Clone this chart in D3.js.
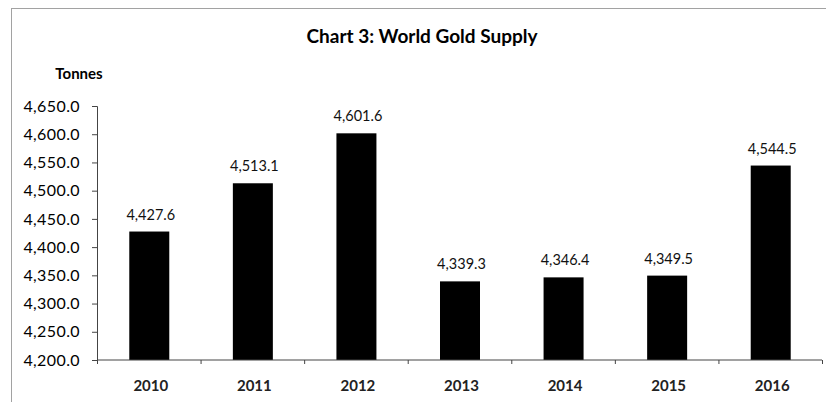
<!DOCTYPE html>
<html>
<head>
<meta charset="utf-8">
<script src="https://cdnjs.cloudflare.com/ajax/libs/d3/7.8.5/d3.min.js"></script>
<style>
  body { margin: 0; background: white; }
  svg { display: block; font-family: Lato, "Open Sans", sans-serif; }
</style>
</head>
<body>
<svg width="826" height="402"></svg>
<script>
// chart data
const years = ['2010', '2011', '2012', '2013', '2014', '2015', '2016']
const supply = [4427.6, 4513.1, 4601.6, 4339.3, 4346.4, 4349.5, 4544.5]
const yTicks = [4200, 4250, 4300, 4350, 4400, 4450, 4500, 4550, 4600, 4650]

const svg = d3.select('svg')
const plotLeft = 97, plotRight = 822, plotTop = 106, plotBottom = 360

// dotted frame around the chart area
svg.append('rect')
  .attr('x', 11.5).attr('y', 8.5)
  .attr('width', 900).attr('height', 500)
  .attr('fill', 'none')
  .attr('stroke', '#444')
  .attr('stroke-dasharray', '1,1')

const x = d3.scaleBand()
  .domain(years)
  .range([plotLeft, plotRight])
  .padding(0)

const y = d3.scaleLinear()
  .domain([4200, 4650])
  .range([plotBottom, plotTop])

const fmt = d3.format(',.1f')

// title
svg.append('text')
  .attr('x', 422).attr('y', 43)
  .attr('text-anchor', 'middle')
  .style('font-size', '19px').style('font-weight', 'bold')
  .text('Chart 3: World Gold Supply')

svg.append('text')
  .attr('x', 79).attr('y', 79)
  .attr('text-anchor', 'middle')
  .style('font-size', '15px').style('font-weight', 'bold')
  .text('Tonnes')

// bars
const barW = 40
svg.append('g')
  .selectAll('rect')
  .data(supply)
  .join('rect')
    .attr('x', (d, i) => x(years[i]) + x.bandwidth() / 2 - barW / 2 + 0.5)
    .attr('y', d => y(d))
    .attr('width', barW)
    .attr('height', d => plotBottom - y(d))
    .attr('fill', '#000')

// value labels
svg.append('g')
  .selectAll('text')
  .data(supply)
  .join('text')
    .attr('x', (d, i) => x(years[i]) + x.bandwidth() / 2 + 2)
    .attr('y', d => y(d) - 12)
    .attr('text-anchor', 'middle')
    .style('font-size', '14.5px')
    .attr('fill', '#111')
    .text(d => fmt(d))

// y axis
const yAxis = svg.append('g')
  .attr('transform', `translate(${plotLeft},0)`)
  .call(d3.axisLeft(y).tickValues(yTicks).tickFormat(fmt).tickSize(5).tickPadding(12))
yAxis.select('.domain').attr('stroke', '#444')
yAxis.selectAll('.tick line').attr('stroke', '#444')
yAxis.selectAll('text')
  .style('font-size', '16px')
  .style('letter-spacing', '0.4px')
  .style('font-family', 'Lato, "Open Sans", sans-serif')
  .attr('fill', '#000')

// x axis: ticks sit at band edges
const xAxis = svg.append('g')
  .attr('transform', `translate(0,${plotBottom})`)
xAxis.append('line')
  .attr('x1', plotLeft).attr('x2', plotRight)
  .attr('stroke', '#444')
xAxis.selectAll('line.edge')
  .data(years.map(d => x(d)).concat([plotRight]))
  .join('line')
    .attr('class', 'edge')
    .attr('x1', d => d + 0.5).attr('x2', d => d + 0.5)
    .attr('y1', 0).attr('y2', 4)
    .attr('stroke', '#444')
xAxis.selectAll('text')
  .data(years)
  .join('text')
    .attr('x', d => x(d) + x.bandwidth() / 2 + 2)
    .attr('y', 31)
    .attr('text-anchor', 'middle')
    .style('font-size', '15px')
    .style('font-weight', 'bold')
    .attr('fill', '#222')
    .text(d => d)
</script>
</body>
</html>
